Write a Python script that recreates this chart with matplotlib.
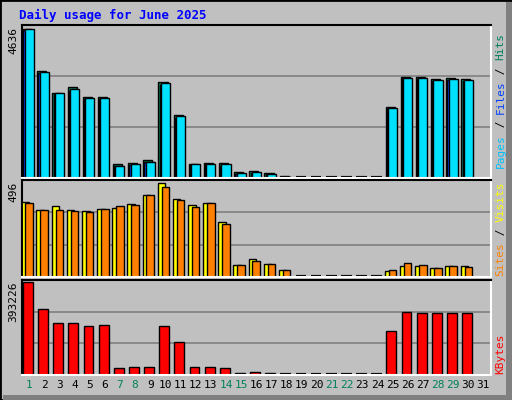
import matplotlib
matplotlib.use("Agg")
import matplotlib.pyplot as plt
from matplotlib.patches import Rectangle

days = list(range(1, 32))
weekend = [1, 7, 8, 14, 15, 21, 22, 28, 29]

hits = [4636, 3340, 2650, 2835, 2520, 2520, 440, 470, 570, 2990, 1950, 440, 470, 470, 190,
        220, 160, 60, 0, 0, 0, 0, 0, 0, 2200, 3150, 3150, 3090, 3120, 3090, 0]
files = [4600, 3280, 2600, 2700, 2450, 2450, 360, 420, 500, 2880, 1880, 400, 430, 380, 140,
         170, 110, 30, 0, 0, 0, 0, 0, 0, 2160, 3100, 3090, 3020, 3060, 3030, 0]
pages = [4636, 3300, 2650, 2760, 2500, 2500, 380, 440, 500, 2950, 1920, 440, 440, 440, 160,
         190, 110, 40, 0, 0, 0, 0, 0, 0, 2180, 3120, 3120, 3060, 3090, 3060, 0]
visits = [394, 350, 372, 350, 345, 356, 363, 383, 431, 496, 410, 377, 388, 291, 65,
          97, 70, 38, 0, 0, 0, 0, 0, 0, 32, 56, 56, 49, 59, 59, 0]
sites = [388, 350, 350, 345, 340, 356, 372, 377, 431, 474, 404, 367, 388, 280, 65,
         86, 70, 38, 0, 0, 0, 0, 0, 0, 38, 75, 65, 49, 59, 54, 0]
kbytes = [393226, 280800, 220300, 220300, 207400, 211700, 30200, 34600, 34600, 207400,
          138200, 34600, 34600, 30200, 8600, 13000, 8600, 0, 0, 0, 0, 0, 0, 0,
          185800, 267800, 263500, 263500, 263500, 263500, 0]

BG = "#C0C0C0"
MONO = "DejaVu Sans Mono"
fig = plt.figure(figsize=(5.12, 4.0), dpi=100)
fig.patch.set_facecolor(BG)
fig.patches.append(Rectangle((0, 0), 1, 1, transform=fig.transFigure, fill=False,
                             edgecolor="black", lw=2))
fig.patches.append(Rectangle((0.988, 0), 0.012, 0.995, transform=fig.transFigure,
                             facecolor="#808080", edgecolor="none"))
fig.patches.append(Rectangle((0.005, 0.0), 0.99, 0.012, transform=fig.transFigure,
                             facecolor="#808080", edgecolor="none"))
fig.text(0.037, 0.962, "Daily usage for June 2025", color="#0000FF", fontsize=9,
         fontweight="bold", family=MONO, va="center")

L, R = 0.042, 0.959


def make_ax(bottom, top, peak, label):
    ax = fig.add_axes([L, bottom, R - L, top - bottom])
    ax.set_facecolor(BG)
    ymax = peak * 1.027
    ax.set_xlim(0.5, 31.5)
    ax.set_ylim(0, ymax)
    for f in (1 / 3, 2 / 3):
        ax.axhline(ymax * f, color="#808080", lw=1.2, zorder=0)
    ax.set_xticks([]); ax.set_yticks([])
    for s in ax.spines.values():
        s.set_color("black"); s.set_linewidth(1.5)
    ax.spines["right"].set_color("white"); ax.spines["bottom"].set_color("white")
    fig.text(L - 0.016, top - 0.005, label, rotation=90, ha="center", va="top",
             family=MONO, fontsize=8)
    return ax


def zero_dashes(ax, vals, start):
    for d, v in zip(days, vals):
        if v == 0 and start <= d <= 24:
            ax.plot([d - 0.4, d + 0.3], [0, 0], color="black", lw=3, solid_capstyle="butt")


def side_label(y0, parts):
    y = y0
    for txt, col in parts:
        fig.text(0.978, y, txt, rotation=90, color=col, family=MONO, fontsize=8,
                 ha="center", va="bottom")
        y += len(txt) * 0.0168


ax1 = make_ax(0.555, 0.9375, max(hits), "4636")
ax1.bar([d - 0.16 for d in days], hits, width=0.6, color="#00805C", edgecolor="black", lw=1)
ax1.bar([d - 0.08 for d in days], files, width=0.6, color="#0040FF", edgecolor="black", lw=1)
ax1.bar(days, pages, width=0.6, color="#00E0FF", edgecolor="black", lw=1)
zero_dashes(ax1, hits, 19)
side_label(0.58, [("Pages", "#00C0FF"), (" / ", "black"), ("Files", "#0040FF"),
                  (" / ", "black"), ("Hits", "#00805C")])

ax2 = make_ax(0.3075, 0.55, max(visits), "496")
ax2.bar([d - 0.26 for d in days], visits, width=0.5, color="#FFFF00", edgecolor="black", lw=1)
ax2.bar(days, sites, width=0.5, color="#FF8000", edgecolor="black", lw=1)
zero_dashes(ax2, visits, 19)
side_label(0.31, [("Sites", "#FF8000"), (" / ", "black"), ("Visits", "#FFFF00")])

ax3 = make_ax(0.0625, 0.30, max(kbytes), "393226")
ax3.bar([d - 0.08 for d in days], kbytes, width=0.65, color="#FF0000", edgecolor="black", lw=1)
zero_dashes(ax3, kbytes, 18)
side_label(0.065, [("KBytes", "#FF0000")])

for d in days:
    x = L + (d - 0.5) / 31 * (R - L)
    fig.text(x, 0.025, str(d), ha="center", va="bottom", family=MONO, fontsize=8,
             color="#00805C" if d in weekend else "black")

fig.savefig("out.png", dpi=100, facecolor=BG)
